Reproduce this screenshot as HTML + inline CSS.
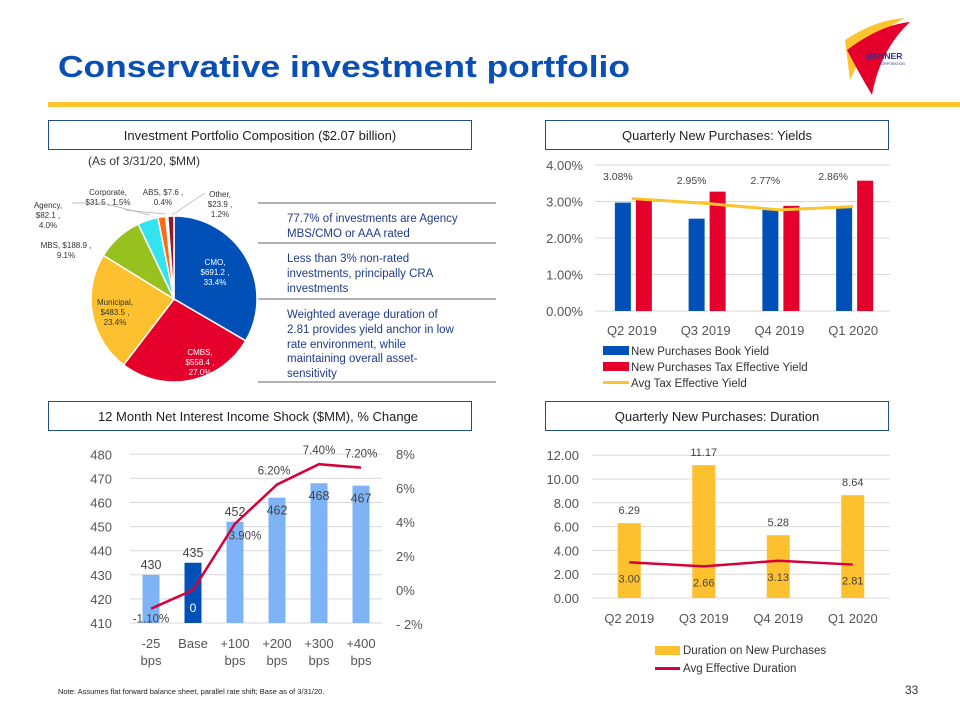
<!DOCTYPE html>
<html><head><meta charset="utf-8"><style>
html,body{margin:0;padding:0;background:#fff;}
svg{display:block;font-family:"Liberation Sans",sans-serif;}
</style></head><body>
<svg id="s" width="960" height="720" viewBox="0 0 960 720" xmlns="http://www.w3.org/2000/svg">
<text x="58" y="77" font-size="31" font-weight="bold" fill="#0A4FB4" textLength="572" lengthAdjust="spacingAndGlyphs">Conservative investment portfolio</text>
<rect x="48" y="102" width="912" height="5" fill="#FCC52F"/>
<g>
<path d="M845 40 Q875 20 905 18 Q870 35 850 80 Z" fill="#FCC52F"/>
<path d="M847 50 Q880 25 910 22 Q880 50 872 95 Q860 75 847 50 Z" fill="#E4002B"/>
<text x="866" y="59" font-size="8.5" font-weight="bold" fill="#2E3192">BANNER</text>
<text x="879" y="65" font-size="3.5" fill="#2E3192">CORPORATION</text>
</g>
<g><rect x="48.5" y="120.5" width="423" height="29" fill="none" stroke="#1F4E8C"/><text x="260" y="140" font-size="13" text-anchor="middle" fill="#222">Investment Portfolio Composition ($2.07 billion)</text></g>
<g><rect x="545.5" y="120.5" width="343" height="29" fill="none" stroke="#1F4E8C"/><text x="717" y="140" font-size="13" text-anchor="middle" fill="#222">Quarterly New Purchases: Yields</text></g>
<g><rect x="48.5" y="401.5" width="423" height="29" fill="none" stroke="#1F4E8C"/><text x="258" y="421" font-size="13" text-anchor="middle" fill="#222">12 Month Net Interest Income Shock ($MM), % Change</text></g>
<g><rect x="545.5" y="401.5" width="343" height="29" fill="none" stroke="#1F4E8C"/><text x="717" y="421" font-size="13" text-anchor="middle" fill="#222">Quarterly New Purchases: Duration</text></g>
<text x="88" y="165" font-size="12" fill="#333">(As of 3/31/20, $MM)</text>
<g id="pie"></g>
<g fill="#1F3C88" font-size="11.5">
<line x1="258" y1="203" x2="496" y2="203" stroke="#999" stroke-width="1.5"/>
<line x1="258" y1="243" x2="496" y2="243" stroke="#999" stroke-width="1.5"/>
<line x1="258" y1="299" x2="496" y2="299" stroke="#999" stroke-width="1.5"/>
<line x1="258" y1="382" x2="496" y2="382" stroke="#999" stroke-width="1.5"/>
<text x="287" y="222">77.7% of investments are Agency</text><text x="287" y="237">MBS/CMO  or AAA rated</text>
<text x="287" y="262">Less than 3% non-rated</text><text x="287" y="277">investments, principally  CRA</text><text x="287" y="292">investments</text>
<text x="287" y="318">Weighted average duration of</text><text x="287" y="333">2.81 provides yield anchor in low</text><text x="287" y="348">rate environment, while</text><text x="287" y="362">maintaining overall asset-</text><text x="287" y="377">sensitivity</text>
</g>
<g id="yields"></g>
<g id="nii"></g>
<g id="dur"></g>
<text x="58" y="694" font-size="7.5" fill="#222">Note: Assumes flat forward balance sheet, parallel rate shift; Base as of 3/31/20.</text>
<text x="905" y="694" font-size="12" fill="#333">33</text>
</svg>
<script>
const pieLabels=["CMO","CMBS","Municipal","MBS","Agency","Corporate","ABS","Other"];
const pieAmounts=["$691.2","$558.4","$483.5","$188.9","$82.1","$31.5","$7.6","$23.9"];
const piePct=[33.4,27.0,23.4,9.1,4.0,1.5,0.4,1.2];
const yQuarters=["Q2 2019","Q3 2019","Q4 2019","Q1 2020"];
const bookYield=[2.97,2.53,2.80,2.86];
const taxYield=[3.08,3.27,2.88,3.57];
const avgYield=[3.08,2.95,2.77,2.86];
const yTicks=[0,1,2,3,4];
const niiCats=[["-25","bps"],["Base",""],["+100","bps"],["+200","bps"],["+300","bps"],["+400","bps"]];
const niiValues=[430,435,452,462,468,467];
const niiPct=[-1.1,0,3.9,6.2,7.4,7.2];
const niiTicks=[410,420,430,440,450,460,470,480];
const niiPctTicks=[-2,0,2,4,6,8];
const durValues=[6.29,11.17,5.28,8.64];
const durAvg=[3.00,2.66,3.13,2.81];
const durTicks=[0,2,4,6,8,10,12];
const NS="http://www.w3.org/2000/svg";
function mk(p,tag,at,txt){const e=document.createElementNS(NS,tag);for(const k in at)e.setAttribute(k,at[k]);if(txt!==undefined)e.textContent=txt;p.appendChild(e);return e;}
// PIE
(function(){const g=document.getElementById('pie');const cx=174,cy=299,r=83;
const cols=["#0050B8","#E4002B","#FDC130","#96C11F","#33E3F0","#FF6A13","#F5F5F5","#8B1A2A"];
const tot=piePct.reduce((a,b)=>a+b,0);let a0=-Math.PI/2;
const lp=[[215,265],[200,355],[115,305],[66,248],[48,208],[108,195],[163,195],[220,197]];
piePct.forEach((v,i)=>{const a1=a0+v/tot*2*Math.PI;const x0=cx+r*Math.cos(a0),y0=cy+r*Math.sin(a0),x1=cx+r*Math.cos(a1),y1=cy+r*Math.sin(a1);
const p=mk(g,'path',{d:`M${cx},${cy}L${x0},${y0}A${r},${r} 0 ${a1-a0>Math.PI?1:0} 1 ${x1},${y1}Z`,fill:cols[i],stroke:'#fff','stroke-width':1.5});


a0=a1;});
const wc=["#fff","#fff","#333","#333","#333","#333","#333","#333"];
piePct.forEach((v,i)=>{const t=mk(g,'text',{x:lp[i][0],y:lp[i][1],'font-size':8,'text-anchor':'middle',fill:wc[i]});


const lines=i==5?[pieLabels[i]+",",pieAmounts[i]+" , "+v.toFixed(1)+"%"]:i==6?[pieLabels[i]+", "+pieAmounts[i]+" ,",v.toFixed(1)+"%"]:i==3?[pieLabels[i]+", "+pieAmounts[i]+" ,",v.toFixed(1)+"%"]:[pieLabels[i]+",",pieAmounts[i]+" ,",v.toFixed(1)+"%"];
lines.forEach((l,j)=>mk(t,'tspan',{x:lp[i][0],dy:j?10:0},l));});
mk(g,'polyline',{points:"72,203 102,203 150,215",fill:'none',stroke:'#aaa','stroke-width':0.7});
mk(g,'polyline',{points:"125,210 165,214",fill:'none',stroke:'#aaa','stroke-width':0.7});
mk(g,'polyline',{points:"205,193 172,215",fill:'none',stroke:'#aaa','stroke-width':0.7});
})();
// YIELDS
(function(){const g=document.getElementById('yields');const L=595,R=890,y0=311,pp=36.5;
const X=i=>L+(R-L)/4*(i+0.5),Y=v=>y0-v*pp;
yTicks.forEach(t=>{mk(g,'line',{x1:L,x2:R,y1:Y(t),y2:Y(t),stroke:'#d9d9d9'});
const e=mk(g,'text',{x:583,y:Y(t)+5,'font-size':13,'text-anchor':'end',fill:'#555'},t.toFixed(2)+"%");

});
yQuarters.forEach((q,i)=>{
const b=mk(g,'rect',{x:X(i)-17,y:Y(bookYield[i]),width:16,height:bookYield[i]*pp,fill:'#0050B8'});


const r=mk(g,'rect',{x:X(i)+4,y:Y(taxYield[i]),width:16,height:taxYield[i]*pp,fill:'#E4002B'});


const t=mk(g,'text',{x:X(i),y:335,'font-size':13,'text-anchor':'middle',fill:'#555'},q);

});
const pl=mk(g,'polyline',{points:avgYield.map((v,i)=>X(i)+','+Y(v)).join(' '),fill:'none',stroke:'#FCC52F','stroke-width':3});


avgYield.forEach((v,i)=>{const e=mk(g,'text',{x:X(i)-14+(i==3?-6:0),y:180+(i==1||i==2?4:0),'font-size':10.5,'text-anchor':'middle',fill:'#444'},v.toFixed(2)+"%");

});
const lg=[['#0050B8','New Purchases Book Yield',0],['#E4002B','New Purchases Tax Effective Yield',0],['#FCC52F','Avg Tax Effective Yield',1]];
lg.forEach((l,i)=>{const y=351+i*16;if(l[2])mk(g,'rect',{x:603,y:y-2,width:26,height:3,fill:l[0]});else mk(g,'rect',{x:603,y:y-5,width:26,height:9,fill:l[0]});
const e=mk(g,'text',{x:631,y:y+4,'font-size':11.5,fill:'#333'},l[1]);

});
})();
// NII
(function(){const g=document.getElementById('nii');const L=130,R=382,ym=623,pu=2.41,p0=590,pp=17;
const X=i=>L+(R-L)/6*(i+0.5),Y=v=>ym-(v-410)*pu,P=v=>p0-v*pp;
niiTicks.forEach(t=>{mk(g,'line',{x1:L,x2:R,y1:Y(t),y2:Y(t),stroke:'#d9d9d9'});
const e=mk(g,'text',{x:112,y:Y(t)+5,'font-size':13,'text-anchor':'end',fill:'#555'},t);

});
niiPctTicks.forEach(t=>{const e=mk(g,'text',{x:396,y:P(t)+5,'font-size':13,fill:'#555'},(t<0?"- "+(-t):t)+"%");

});
niiValues.forEach((v,i)=>{const b=mk(g,'rect',{x:X(i)-8.5,y:Y(v),width:17,height:ym-Y(v),fill:i==1?'#0050B8':'#7EB4F5'});


const up=i<3;const e=mk(g,'text',{x:X(i),y:up?Y(v)-6:Y(v)+17,'font-size':12.5,'text-anchor':'middle',fill:'#444'},v);


const c=niiCats[i];[0,1].forEach(j=>{if(c[j])mk(g,'text',{x:X(i),y:648+j*17,'font-size':13,'text-anchor':'middle',fill:'#555'},c[j]);});});
const pl=mk(g,'polyline',{points:niiPct.map((v,i)=>X(i)+','+P(v)).join(' '),fill:'none',stroke:'#D6003B','stroke-width':2.5});


niiPct.forEach((v,i)=>{let x=X(i),y=P(v)-10;if(i==0){y=P(v)+14;}if(i==1){const e=mk(g,'text',{x:x,y:612,'font-size':12,'text-anchor':'middle',fill:'#fff'},"0");return;}if(i==2){x+=10;y=P(v)+16;}if(i==3)x-=3;
const e=mk(g,'text',{x:x,y:y,'font-size':11.5,'text-anchor':'middle',fill:'#444'},v.toFixed(2)+"%");

});
})();
// DURATION
(function(){const g=document.getElementById('dur');const L=592,R=890,y0=598,pu=11.9;
const X=i=>L+(R-L)/4*(i+0.5),Y=v=>y0-v*pu;
durTicks.forEach(t=>{mk(g,'line',{x1:L,x2:R,y1:Y(t),y2:Y(t),stroke:'#d9d9d9'});
const e=mk(g,'text',{x:579,y:Y(t)+5,'font-size':13,'text-anchor':'end',fill:'#555'},t.toFixed(2));

});
durValues.forEach((v,i)=>{const b=mk(g,'rect',{x:X(i)-11.5,y:Y(v),width:23,height:v*pu,fill:'#FDC130'});


const e=mk(g,'text',{x:X(i),y:Y(v)-9,'font-size':11,'text-anchor':'middle',fill:'#444'},v.toFixed(2));


mk(g,'text',{x:X(i),y:623,'font-size':13,'text-anchor':'middle',fill:'#555'},yQuarters[i]);});
const pl=mk(g,'polyline',{points:durAvg.map((v,i)=>X(i)+','+Y(v)).join(' '),fill:'none',stroke:'#D6003B','stroke-width':2.5});


durAvg.forEach((v,i)=>{const e=mk(g,'text',{x:X(i),y:Y(v)+20,'font-size':11,'text-anchor':'middle',fill:'#444'},v.toFixed(2));

});
mk(g,'rect',{x:655,y:646,width:25,height:9,fill:'#FDC130'});
mk(g,'text',{x:683,y:654,'font-size':11.5,fill:'#333'},'Duration on New Purchases');
mk(g,'rect',{x:655,y:667,width:25,height:3,fill:'#D6003B'});
mk(g,'text',{x:683,y:672,'font-size':11.5,fill:'#333'},'Avg Effective Duration');
})();
</script>
</body></html>
